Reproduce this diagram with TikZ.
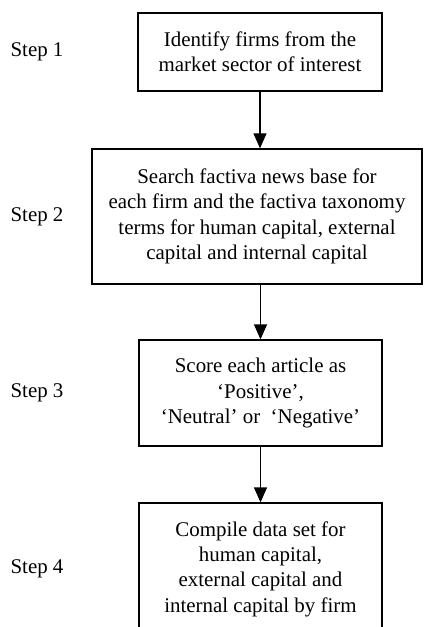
\documentclass[tikz,border=0pt]{standalone}
\usepackage{fontspec}
\setmainfont{Liberation Serif}
\usepackage{tikz}
\usetikzlibrary{positioning, arrows.meta, calc}

\tikzset{
  stepbox/.style={draw, line width=1.3pt, align=center, inner sep=0pt,
    font=\fontsize{21}{25.5}\selectfont},
  steplab/.style={font=\fontsize{21}{25.5}\selectfont},
  flow/.style={line width=1.3pt, -{Triangle[length=15bp, width=13bp]}}
}

\begin{document}
\begin{tikzpicture}[x=1bp, y=-1bp]
      % ── page frame ──────────────────────────────────────────────────────────
      \useasboundingbox (0,0) rectangle (423,627);

      % ── process boxes ───────────────────────────────────────────────────────
      \node[stepbox, minimum width=244bp, minimum height=78bp]
        (identify) at (260, 52) {Identify firms from the\\market sector of interest};
      \node[stepbox, minimum width=330bp, minimum height=135bp]
        (search) at (257, 216.5) {Search factiva news base for\\each firm and the factiva taxonomy\\terms for human capital, external\\capital and internal capital};
      \node[stepbox, minimum width=243bp, minimum height=106bp]
        (score) at (260.5, 393) {Score each article as\\`Positive',\\`Neutral' or\ \ `Negative'};
      % last box runs off the page bottom
      \node[stepbox, minimum width=243bp, minimum height=132bp]
        (compile) at (260.5, 569) {Compile data set for\\human capital,\\external capital and\\internal capital by firm};

      % ── step labels ─────────────────────────────────────────────────────────
      \foreach \n/\b in {1/identify, 2/search, 3/score, 4/compile} {
        \node[steplab] (lab\n) at (37, 0 |- \b) {Step \n};
      }

      % ── arrows ──────────────────────────────────────────────────────────────
      \draw[flow] (identify.south) -- (identify.south |- search.north);
      \draw[flow] (search.south -| score) -- (score.north);
      \draw[flow] (score.south) -- (compile.north);
\end{tikzpicture}
\end{document}
